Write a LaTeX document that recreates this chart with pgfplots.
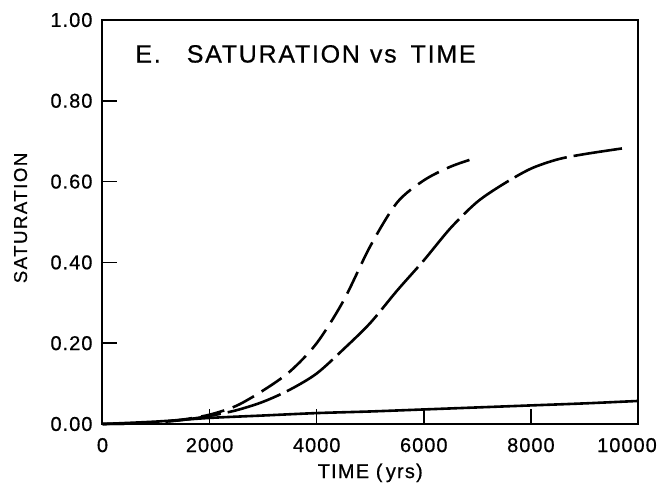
\documentclass[border=0pt]{standalone}
\usepackage{fontspec}
\setmainfont{Liberation Sans}[FakeBold=0.6]
\usepackage{pgfplots}
\pgfplotsset{compat=1.18}
\begin{document}
\begin{tikzpicture}
\begin{axis}[
  at={(0,0)}, anchor=south west,
  scale only axis, width=267.75pt, height=202pt,
  xmin=0, xmax=10000, ymin=0, ymax=1,
  scaled ticks=false,
  axis line style={line width=1pt},
  xtick={0,2000,4000,6000,8000,10000},
  xticklabels={0,2000,4000,6000,8000,\hspace*{-11pt}10000},
  ytick={0,0.2,0.4,0.6,0.8,1.0},
  tick align=inside, tick pos=left,
  major tick length=7.5pt,
  tick style={line width=0.8pt, black},
  /pgf/number format/assume math mode=true,
  ticklabel style={font=\fontsize{10}{12}\selectfont\addfontfeatures{LetterSpace=5}},
  yticklabel style={/pgf/number format/.cd, fixed, fixed zerofill, precision=2, /tikz/.cd, xshift=-1.5pt},
  xticklabel style={yshift=-3.5pt},
  xlabel={TIME (\,yrs)},
  ylabel={SATURATION},
  xlabel style={font=\fontsize{10}{12}\selectfont\addfontfeatures{LetterSpace=6}, at={(axis description cs:0.5,-0.121)}, anchor=center},
  ylabel style={font=\fontsize{9.3}{12}\selectfont\addfontfeatures{LetterSpace=8}, at={(axis description cs:-0.153,0.51)}, anchor=center},
  clip=false,
]
\addplot[black, line width=1.3pt, smooth] coordinates {
(0,0) (1000,0.006) (2000,0.015) (3000,0.021) (4000,0.027) (5000,0.031)
(6000,0.036) (7000,0.041) (8000,0.046) (9000,0.051) (10000,0.057)};
\addplot[black, line width=1.3pt, smooth, dash pattern=on 28pt off 3.5pt] coordinates {
(0,0) (500,0.001) (1000,0.004) (1500,0.010) (2000,0.020) (2500,0.034)
(3000,0.055) (3500,0.085) (4000,0.125) (4500,0.185) (5000,0.25) (5500,0.33)
(6000,0.405) (6500,0.485) (7000,0.55) (7500,0.595) (8000,0.632) (8500,0.655)
(9000,0.668) (9700,0.682)};
\addplot[black, line width=1.3pt, smooth, dash pattern=on 12pt off 4.5pt] coordinates {
(0,0) (500,0.001) (1000,0.004) (1500,0.011) (2000,0.023) (2500,0.045)
(3000,0.083) (3500,0.13) (4000,0.20) (4500,0.305) (5000,0.44) (5500,0.548)
(6000,0.603) (6500,0.637) (7000,0.66)};
\node[anchor=west, inner sep=0pt, font=\fontsize{12.5}{14}\selectfont\addfontfeatures{LetterSpace=7}] at (rel axis cs:0.0607,0.916) {E.\hspace{13pt}SATURATION\hspace{5pt}vs\hspace{7pt}TIME};
\end{axis}
\pgfresetboundingbox
\useasboundingbox (-51.25pt,-31pt) rectangle (281.25pt,212pt);
\end{tikzpicture}
\end{document}
